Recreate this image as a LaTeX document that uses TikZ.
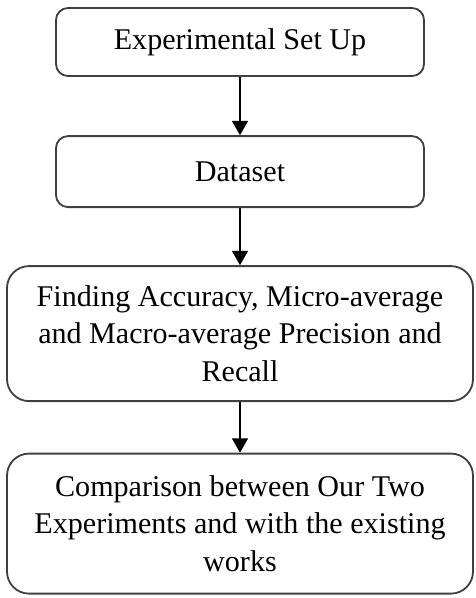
\documentclass[tikz,border=0pt]{standalone}
\usepackage{fontspec}
\setmainfont{Liberation Serif}
\usetikzlibrary{arrows.meta,positioning}

\begin{document}
\begin{tikzpicture}[x=1.0cm,y=1.0cm,
    stage/.style={draw=black!75,line width=1.3pt,align=center,inner sep=0pt,
      font=\fontsize{21.4}{26.6}\selectfont},
    flow/.style={-{Triangle[width=0.4cm,length=0.36cm]},line width=1.1pt}]
  \useasboundingbox (0,0) rectangle (11.9,-14.95);
  % the four stages
  \node[stage,rounded corners=0.3cm,minimum width=9.2cm,minimum height=1.7cm]
    (setup) at (6.0,-1.05) {Experimental Set Up};
  \node[stage,rounded corners=0.3cm,minimum width=9.2cm,minimum height=1.775cm]
    (data) at (6.0,-4.29) {Dataset};
  \node[stage,rounded corners=0.55cm,minimum width=11.65cm,minimum height=3.375cm]
    (metrics) at (6.0,-8.34) {Finding Accuracy, Micro-average\\and Macro-average Precision and\\Recall};
  \node[stage,rounded corners=0.55cm,minimum width=11.65cm,minimum height=3.5cm]
    (compare) at (6.0,-13.09) {Comparison between Our Two\\Experiments and with the existing\\works};
  % arrows between stages
  \draw[flow] (setup) -- (data);
  \draw[flow] (data) -- (metrics);
  \draw[flow] (metrics) -- (compare);
\end{tikzpicture}
\end{document}
